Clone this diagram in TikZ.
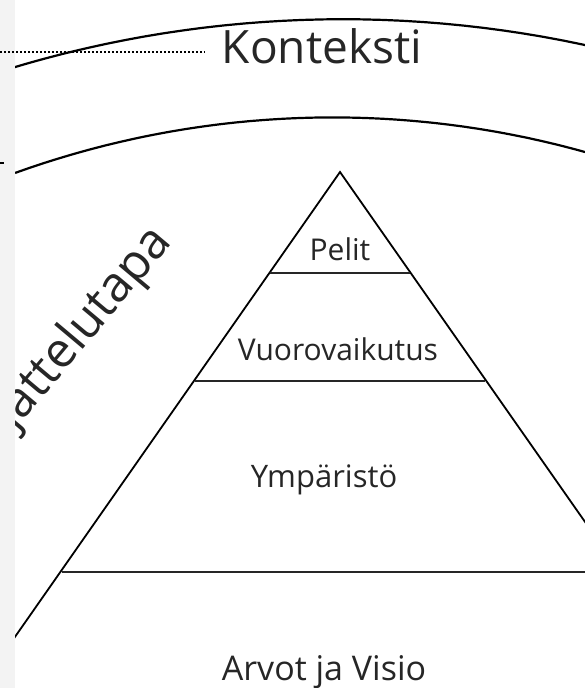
\documentclass[tikz,border=0pt]{standalone}
\usepackage{fontspec}
\setmainfont{Open Sans}
\definecolor{txt}{HTML}{262626}
\definecolor{strip}{HTML}{F3F3F3}
\begin{document}
\begin{tikzpicture}[x=1pt,y=-1pt,
  edge/.style={line width=1.8pt,black},
  layer/.style={line width=1.3pt,black!85},
  band/.style={line width=2.2pt,black},
  biglabel/.style={text=txt,font=\fontsize{46}{50}\selectfont,inner sep=0pt},
  label/.style={text=txt,font=\fontsize{30}{34}\selectfont,inner sep=0pt}]
\useasboundingbox (0,0) rectangle (585,688);
\begin{scope}
\clip (0,0) rectangle (585,688);
% context arcs
\draw[band] plot[domain=77.8:106.6,samples=80,smooth] ({342.9+1148.6*cos(\x)},{1167.8-1148.6*sin(\x)});
\draw[band] plot[domain=74.38:109.83,samples=80,smooth] ({332.8+936.7*cos(\x)},{1054.1-936.7*sin(\x)});
% pyramid
\coordinate (apex) at (340,172);
\coordinate (lfoot) at (10,644);
\coordinate (rfoot) at (590,529);
\coordinate (p1l) at (270,273);
\coordinate (p1r) at (410,273);
\coordinate (p2l) at (195,381);
\coordinate (p2r) at (485,381);
\coordinate (p3l) at (62.4,572);
\coordinate (p3r) at (590,572);
\draw[edge] (lfoot) -- (apex) -- (rfoot);
\draw[layer] (p1l) -- (p1r);
\draw[layer] (p2l) -- (p2r);
\draw[layer] (p3l) -- (p3r);
% labels
\node[label,anchor=base] (pelit) at (340,260) {Pelit};
\node[label,anchor=base] (vuoro) at (338,360) {Vuorovaikutus};
\node[label,anchor=base,font=\fontsize{31}{34}\selectfont] (ymp) at (324,487) {Ympäristö};
\node[label,anchor=base,font=\fontsize{34}{38}\selectfont] (arvot) at (324,680) {Arvot ja Visio};
\node[biglabel,anchor=base] (kont) at (322,63) {Konteksti};
\node[biglabel,anchor=base east,rotate=50,font=\fontsize{49}{52}\selectfont] (ajat) at (173,242) {jattelutapa};
% left strip
\fill[strip] (0,0) rectangle (15,688);
\coordinate (dotA) at (0,52);
\coordinate (dotB) at (205,52);
\draw[line width=1.8pt,dash pattern=on 2pt off 2pt] (dotA) -- (dotB);
\coordinate (tickA) at (0,163);
\coordinate (tickB) at (4,163);
\draw[line width=1.3pt] (tickA) -- (tickB);
\end{scope}
\end{tikzpicture}
\end{document}
